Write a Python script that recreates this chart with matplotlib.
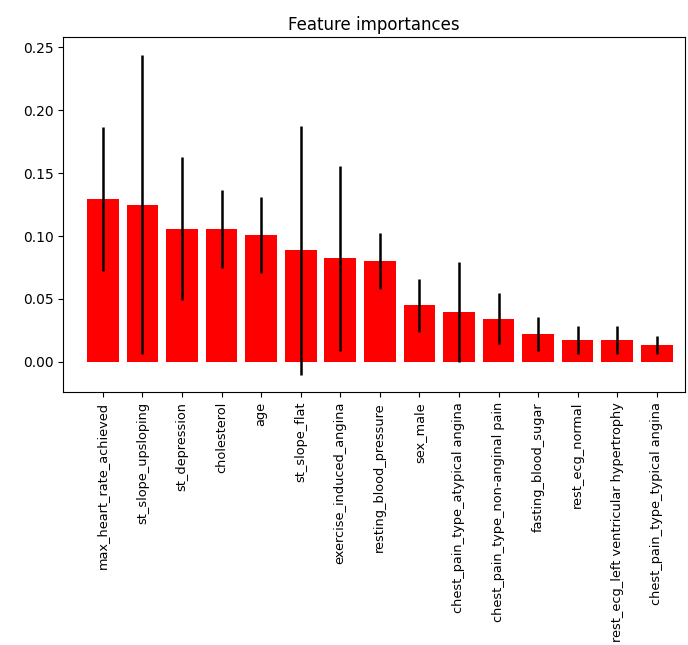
import numpy as np
import matplotlib
matplotlib.use("Agg")
import matplotlib.pyplot as plt

features = [
    "max_heart_rate_achieved", "st_slope_upsloping", "st_depression",
    "cholesterol", "age", "st_slope_flat", "exercise_induced_angina",
    "resting_blood_pressure", "sex_male", "chest_pain_type_atypical angina",
    "chest_pain_type_non-anginal pain", "fasting_blood_sugar",
    "rest_ecg_normal", "rest_ecg_left ventricular hypertrophy",
    "chest_pain_type_typical angina",
]
importances = [0.1296, 0.1250, 0.1058, 0.1053, 0.1008, 0.0886, 0.0823,
               0.0802, 0.0450, 0.0397, 0.0344, 0.0225, 0.0172, 0.0172, 0.0132]
std = [0.057, 0.119, 0.057, 0.031, 0.030, 0.099, 0.0735,
       0.022, 0.021, 0.0397, 0.0205, 0.0135, 0.011, 0.011, 0.007]

fig = plt.figure(figsize=(6.88, 6.45), dpi=100)
ax = fig.add_axes([0.092, 0.392, 0.904, 0.550])

x = np.arange(len(features))
ax.bar(x, importances, color="r", yerr=std, align="center",
       error_kw=dict(ecolor="black", elinewidth=1.8))
ax.set_title("Feature importances", pad=5)
ax.set_xticks(x)
# long names go vertical; size chosen so the longest one still fits
ax.set_xticklabels(features, rotation=90, fontsize=9.3)
ax.set_xlim(-1, 14.72)
ax.set_ylim(-0.024, 0.2577)

fig.savefig("out.png", dpi=100)
